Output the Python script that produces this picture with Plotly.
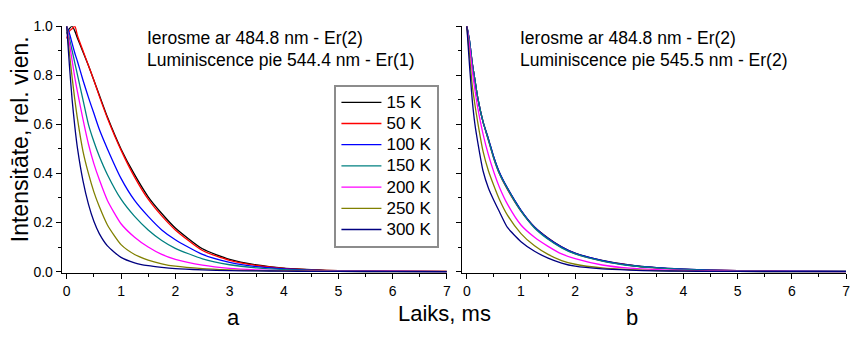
import plotly.graph_objects as go

# time grid (ms)
t_ms = [0, 0.05, 0.1, 0.15, 0.2, 0.3, 0.4, 0.5, 0.6, 0.75, 1.0, 1.25, 1.5, 1.75, 2.0, 2.5, 3.0, 3.5, 4.0, 4.5, 5.0, 6.0, 7.0]

labels = ["15 K", "50 K", "100 K", "150 K", "200 K", "250 K", "300 K"]
colors = ["#000000", "#FF0000", "#0000FF", "#008080", "#FF00FF", "#808000", "#000080"]

# panel a: excitation 484.8 nm, luminescence 544.4 nm
a_15K  = [0.97, 0.99, 1.00, 0.98, 0.95, 0.895, 0.84, 0.78, 0.72, 0.63, 0.50, 0.395, 0.305, 0.237, 0.178, 0.093, 0.050, 0.027, 0.014, 0.008, 0.004, 0.002, 0.001]
a_50K  = [0.95, 0.98, 0.99, 1.00, 0.96, 0.90, 0.84, 0.78, 0.715, 0.625, 0.495, 0.385, 0.295, 0.227, 0.170, 0.086, 0.046, 0.025, 0.013, 0.007, 0.004, 0.002, 0.001]
a_100K = [1.00, 0.97, 0.93, 0.89, 0.855, 0.78, 0.71, 0.645, 0.58, 0.50, 0.38, 0.29, 0.225, 0.17, 0.13, 0.07, 0.038, 0.020, 0.011, 0.006, 0.003, 0.001, 0.0]
a_150K = [1.00, 0.95, 0.90, 0.85, 0.80, 0.70, 0.60, 0.53, 0.47, 0.395, 0.295, 0.225, 0.17, 0.127, 0.095, 0.052, 0.028, 0.015, 0.008, 0.005, 0.003, 0.001, 0.0]
a_200K = [1.00, 0.93, 0.86, 0.79, 0.73, 0.62, 0.52, 0.44, 0.375, 0.29, 0.195, 0.14, 0.10, 0.07, 0.05, 0.026, 0.013, 0.007, 0.004, 0.003, 0.002, 0.001, 0.0]
a_250K = [1.00, 0.89, 0.79, 0.70, 0.62, 0.49, 0.40, 0.325, 0.265, 0.19, 0.11, 0.07, 0.047, 0.032, 0.022, 0.012, 0.007, 0.004, 0.003, 0.002, 0.001, 0.0, 0.0]
a_300K = [1.00, 0.84, 0.70, 0.59, 0.50, 0.37, 0.275, 0.205, 0.155, 0.105, 0.058, 0.036, 0.024, 0.017, 0.012, 0.007, 0.004, 0.003, 0.002, 0.001, 0.001, 0.0, 0.0]

# panel b: excitation 484.8 nm, luminescence 545.5 nm
b_15K  = [1.00, 0.94, 0.85, 0.78, 0.71, 0.61, 0.54, 0.465, 0.405, 0.34, 0.25, 0.182, 0.137, 0.101, 0.075, 0.046, 0.027, 0.016, 0.010, 0.006, 0.004, 0.002, 0.001]
b_50K  = [1.00, 0.93, 0.85, 0.78, 0.71, 0.61, 0.535, 0.46, 0.40, 0.335, 0.247, 0.18, 0.134, 0.099, 0.073, 0.044, 0.026, 0.015, 0.009, 0.006, 0.004, 0.002, 0.001]
b_100K = [1.00, 0.94, 0.85, 0.78, 0.71, 0.61, 0.54, 0.465, 0.405, 0.34, 0.25, 0.181, 0.135, 0.10, 0.074, 0.045, 0.026, 0.016, 0.010, 0.006, 0.004, 0.002, 0.001]
b_150K = [1.00, 0.94, 0.85, 0.78, 0.71, 0.61, 0.535, 0.46, 0.40, 0.337, 0.246, 0.178, 0.132, 0.097, 0.072, 0.043, 0.025, 0.015, 0.009, 0.005, 0.003, 0.002, 0.001]
b_200K = [1.00, 0.92, 0.82, 0.74, 0.67, 0.56, 0.475, 0.405, 0.345, 0.275, 0.19, 0.14, 0.103, 0.072, 0.053, 0.027, 0.014, 0.008, 0.005, 0.003, 0.002, 0.001, 0.0]
b_250K = [1.00, 0.88, 0.76, 0.68, 0.61, 0.49, 0.41, 0.35, 0.295, 0.23, 0.155, 0.105, 0.07, 0.045, 0.03, 0.015, 0.008, 0.004, 0.002, 0.001, 0.001, 0.0, 0.0]
b_300K = [1.00, 0.84, 0.70, 0.60, 0.53, 0.41, 0.34, 0.29, 0.245, 0.18, 0.122, 0.083, 0.055, 0.035, 0.022, 0.011, 0.006, 0.003, 0.002, 0.001, 0.001, 0.0, 0.0]

panel_a = [a_15K, a_50K, a_100K, a_150K, a_200K, a_250K, a_300K]
panel_b = [b_15K, b_50K, b_100K, b_150K, b_200K, b_250K, b_300K]

FONT = "Liberation Sans, Arial, sans-serif"
W, H = 854, 338

fig = go.Figure()
for name, col, ys in zip(labels, colors, panel_a):
    fig.add_trace(go.Scatter(x=t_ms, y=ys, mode="lines",
                             name='<span style="font-size:17px">' + name + '</span>',
                             line=dict(color=col, width=1.3, shape="spline", smoothing=0.6),
                             xaxis="x", yaxis="y"))
for name, col, ys in zip(labels, colors, panel_b):
    fig.add_trace(go.Scatter(x=t_ms, y=ys, mode="lines", name=name, showlegend=False,
                             line=dict(color=col, width=1.3, shape="spline", smoothing=0.6),
                             xaxis="x2", yaxis="y2"))

y_dom = [(H - 276.8) / H, (H - 19) / H]
xcommon = dict(range=[-0.092, 7], tickmode="linear", tick0=0, dtick=1,
               ticks="outside", ticklen=5, tickwidth=1, tickcolor="black",
               showline=True, linecolor="black", linewidth=1, showgrid=False, zeroline=False,
               tickfont=dict(family=FONT, size=14, color="black"),
               minor=dict(tick0=0, dtick=0.5, ticks="outside", ticklen=3, tickcolor="black"))
ycommon = dict(range=[-0.007, 1.0], tickmode="linear", tick0=0, dtick=0.2,
               ticks="outside", ticklen=5, tickwidth=1, tickcolor="black",
               showline=True, linecolor="black", linewidth=1, showgrid=False, zeroline=False,
               tickfont=dict(family=FONT, size=14, color="black"), tickformat=".1f",
               minor=dict(tick0=0, dtick=0.1, ticks="outside", ticklen=3, tickcolor="black"))

fig.update_layout(
    width=W, height=H,
    margin=dict(l=0, r=0, t=0, b=0),
    paper_bgcolor="white", plot_bgcolor="white",
    font=dict(family=FONT, color="black"),
    xaxis=dict(domain=[62 / W, 449 / W], anchor="y", **xcommon),
    yaxis=dict(domain=y_dom, anchor="x", **ycommon),
    xaxis2=dict(domain=[464 / W, 850 / W], anchor="y2", **xcommon),
    yaxis2=dict(domain=y_dom, anchor="x2", showticklabels=False, **ycommon),
    legend=dict(x=336 / W, y=1 - 80 / H, xanchor="left", yanchor="top",
                bgcolor="white", bordercolor="#8c8c8c", borderwidth=2,
                font=dict(family=FONT, size=14, color="black"),
                tracegroupgap=0, itemwidth=40),
    showlegend=True,
)

def ann(x, y, text, size, **kw):
    fig.add_annotation(x=x / W, y=1 - y / H, xref="paper", yref="paper", text=text,
                       showarrow=False, font=dict(family=FONT, size=size, color="black"), **kw)

ann(146, 31, "Ierosme ar 484.8 nm - Er(2)", 17.5, xanchor="left", yanchor="middle")
ann(146, 54, "Luminiscence pie 544.4 nm - Er(1)", 17.5, xanchor="left", yanchor="middle")
ann(520, 31, "Ierosme ar 484.8 nm - Er(2)", 17.5, xanchor="left", yanchor="middle")
ann(520, 54, "Luminiscence pie 545.5 nm - Er(2)", 17.5, xanchor="left", yanchor="middle")
ann(447, 319, "Laiks, ms", 22, xanchor="center", yanchor="middle")
fig.add_annotation(x=235 / W, y=0, xref="paper", yref="paper", text="a", showarrow=False,
                   font=dict(family=FONT, size=22, color="black"), xanchor="center", yanchor="bottom")
fig.add_annotation(x=635 / W, y=0, xref="paper", yref="paper", text="b", showarrow=False,
                   font=dict(family=FONT, size=22, color="black"), xanchor="center", yanchor="bottom")
ann(20, 137, "Intensitāte, rel. vien.", 23, xanchor="center", yanchor="middle", textangle=-90)

fig.write_html("out.html")
